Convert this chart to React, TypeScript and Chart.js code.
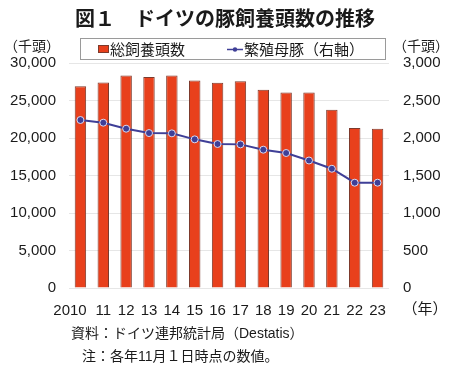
import React, { useEffect, useRef } from "react";
import { Chart, registerables } from "chart.js";

Chart.register(...registerables);

const years = ["2010", "11", "12", "13", "14", "15", "16", "17", "18", "19", "20", "21", "22", "23"];
const totalPigs = [26901, 27402, 28331, 28133, 28339, 27652, 27376, 27578, 26445, 26053, 26070, 23763, 21328, 21237];
const breedingSows = [2240, 2204, 2124, 2066, 2062, 1982, 1920, 1915, 1844, 1800, 1700, 1590, 1404, 1404];
const leftAxis = { min: 0, max: 30000, step: 5000 };
const rightAxis = { min: 0, max: 3000, step: 500 };

const TITLE = "図１　ドイツの豚飼養頭数の推移";
const UNIT = "（千頭）";
const YEAR_UNIT = "（年）";
const SERIES_TOTAL = "総飼養頭数";
const SERIES_SOWS = "繁殖母豚（右軸）";
const NOTE_SOURCE = "資料：ドイツ連邦統計局（Destatis）";
const NOTE_DATE = "注：各年11月１日時点の数値。";

const NUM_FONT = "'Liberation Sans', 'Noto Sans CJK JP', sans-serif";
const JP_FONT = "'Noto Sans CJK JP', sans-serif";
const TEXT = "#1a1a1a";
const BAR_FILL = "#e8401c";
const BAR_EDGE = "#7d3a2c";
const LINE = "#3f3f97";

const fmt = (v: number) => Number(v).toLocaleString("en-US");

const overlay = {
  id: "overlay",
  afterDraw(chart: any) {
    const ctx = chart.ctx as CanvasRenderingContext2D;
    const ds = chart.data.datasets;
    ctx.save();
    ctx.fillStyle = TEXT;
    ctx.textBaseline = "middle";

    // title
    ctx.textAlign = "center";
    ctx.font = `bold 20px ${JP_FONT}`;
    ctx.fillText(TITLE, 225, 18);

    // axis units
    ctx.font = `14px ${NUM_FONT}`;
    ctx.fillText(UNIT, 32, 47);
    ctx.fillText(UNIT, 421, 47);
    ctx.font = `15px ${NUM_FONT}`;
    ctx.fillText(YEAR_UNIT, 425, 310);

    // legend box
    ctx.fillStyle = "#ffffff";
    ctx.fillRect(80.5, 38.5, 305, 21);
    ctx.strokeStyle = "#9a9a9a";
    ctx.lineWidth = 1;
    ctx.strokeRect(80.5, 38.5, 305, 21);

    ctx.fillStyle = ds[0].backgroundColor;
    ctx.fillRect(98, 45, 11, 8);
    ctx.strokeStyle = ds[0].borderColor;
    ctx.strokeRect(98.5, 45.5, 10, 7);

    ctx.strokeStyle = ds[1].borderColor;
    ctx.lineWidth = 1.5;
    ctx.beginPath();
    ctx.moveTo(227, 49.5);
    ctx.lineTo(243, 49.5);
    ctx.stroke();
    ctx.fillStyle = ds[1].pointBackgroundColor;
    ctx.beginPath();
    ctx.arc(235, 49.5, 2.2, 0, Math.PI * 2);
    ctx.fill();

    ctx.fillStyle = TEXT;
    ctx.textAlign = "left";
    ctx.font = `15px ${JP_FONT}`;
    ctx.fillText(ds[0].label, 110, 49);
    ctx.fillText(ds[1].label, 244, 49);

    // notes
    ctx.font = `14px ${NUM_FONT}`;
    ctx.fillText(NOTE_SOURCE, 71, 334);
    ctx.fillText(NOTE_DATE, 82, 357);
    ctx.restore();
  },
};

export default function App() {
  const ref = useRef<HTMLCanvasElement | null>(null);

  useEffect(() => {
    if (!ref.current) return;
    const chart = new Chart(ref.current, {
      type: "bar",
      data: {
        labels: years,
        datasets: [
          {
            type: "line",
            label: SERIES_SOWS,
            data: breedingSows,
            yAxisID: "y1",
            borderColor: LINE,
            borderWidth: 2,
            pointBackgroundColor: LINE,
            pointBorderColor: "#d9d9f0",
            pointBorderWidth: 1,
            pointRadius: 3.5,
            tension: 0,
            order: 0,
          } as any,
          {
            type: "bar",
            label: SERIES_TOTAL,
            data: totalPigs,
            yAxisID: "y",
            backgroundColor: BAR_FILL,
            borderColor: BAR_EDGE,
            borderWidth: 1,
            categoryPercentage: 1,
            barPercentage: 0.5,
            order: 1,
          } as any,
        ].reverse(),
      },
      options: {
        animation: false,
        responsive: false,
        maintainAspectRatio: false,
        layout: { padding: { top: 63, left: 0, right: 0, bottom: 0 } },
        plugins: {
          legend: { display: false },
          title: { display: false },
          tooltip: { enabled: false },
        },
        scales: {
          x: {
            grid: { display: false, drawTicks: false },
            border: { display: false },
            ticks: {
              color: TEXT,
              font: { family: NUM_FONT, size: 15 },
              padding: 14,
              maxRotation: 0,
              autoSkip: false,
              callback: (_v: any, i: number) => (i === 0 ? years[i] + "     " : years[i]),
            },
            afterFit: (s: any) => {
              s.height = 78;
            },
          },
          y: {
            position: "left",
            min: leftAxis.min,
            max: leftAxis.max,
            grid: { color: "#e6e6e6", drawTicks: false },
            border: { display: false },
            ticks: {
              stepSize: leftAxis.step,
              color: TEXT,
              font: { family: NUM_FONT, size: 15 },
              padding: 13,
              callback: (v: any) => fmt(v),
            },
            afterFit: (s: any) => {
              s.width = 69;
            },
          },
          y1: {
            position: "right",
            min: rightAxis.min,
            max: rightAxis.max,
            grid: { display: false, drawTicks: false },
            border: { display: false },
            ticks: {
              stepSize: rightAxis.step,
              color: TEXT,
              font: { family: NUM_FONT, size: 15 },
              padding: 14,
              callback: (v: any) => fmt(v),
            },
            afterFit: (s: any) => {
              s.width = 61;
            },
          },
        },
      } as any,
      plugins: [overlay],
    });
    return () => chart.destroy();
  }, []);

  return (
    <div style={{ position: "fixed", left: 0, top: 0, width: 450, height: 366, background: "#fff" }}>
      <canvas ref={ref} width={450} height={366} style={{ width: 450, height: 366, display: "block" }} />
    </div>
  );
}
